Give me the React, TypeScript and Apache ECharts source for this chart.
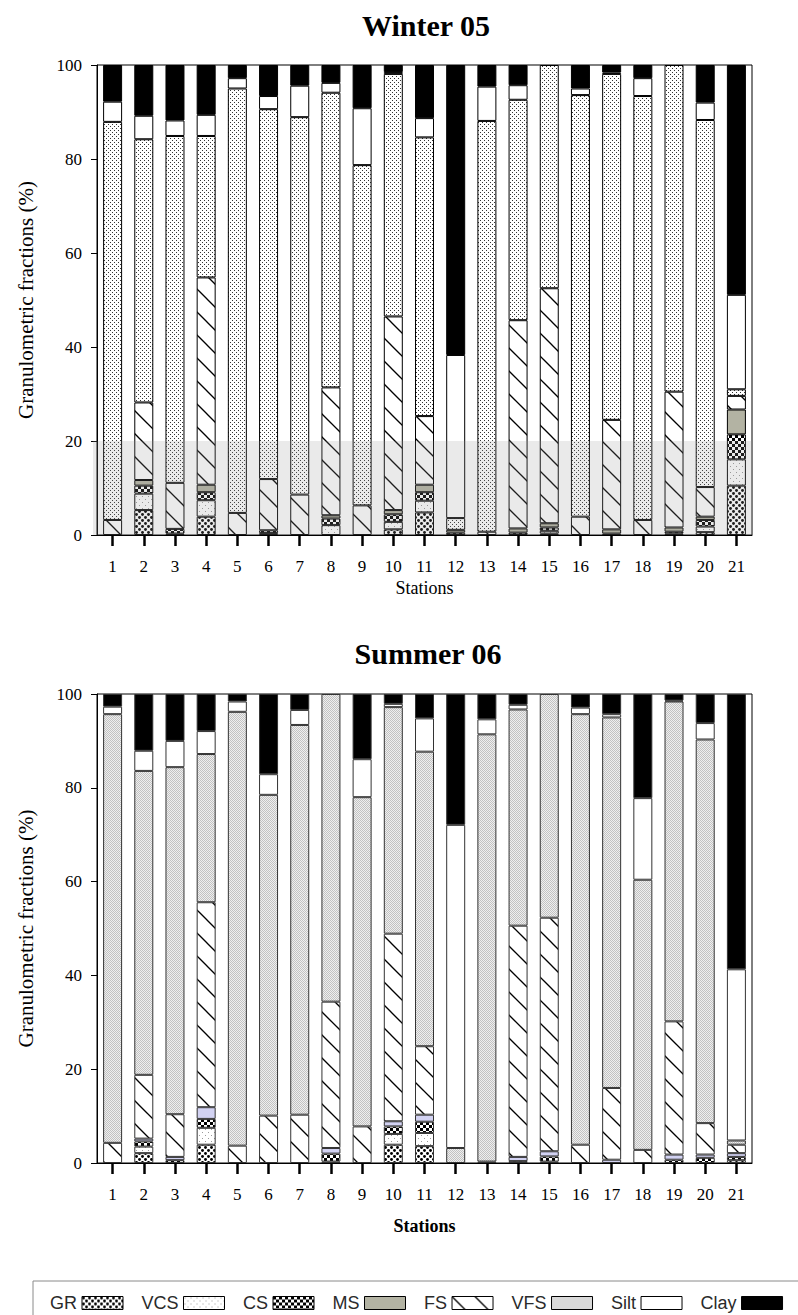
import React, { useEffect, useRef } from "react";
import * as echarts from "echarts";

const STATIONS = ["1","2","3","4","5","6","7","8","9","10","11","12","13","14","15","16","17","18","19","20","21"];
const FRACTIONS = ["GR", "VCS", "CS", "MS", "FS", "VFS", "Silt", "Clay"];
const TITLES = ["Winter 05", "Summer 06"];
const Y_NAME = "Granulometric fractions (%)";
const X_NAME = "Stations";

// Winter 05 (%)
const W_GR   = [0, 5.3, 0.3, 3.9, 0, 0, 0, 0, 0, 1.2, 4.8, 0, 0, 0, 0.3, 0, 0, 0, 0, 0.6, 10.5];
const W_VCS  = [0, 3.5, 0, 3.5, 0, 0.4, 0, 2.1, 0, 1.6, 2.5, 0, 0, 0, 0.6, 0, 0, 0, 0.3, 1.2, 5.6];
const W_CS   = [0, 1.7, 1.0, 1.7, 0, 0.6, 0, 1.4, 0, 1.6, 1.8, 0.5, 0, 0.5, 0.7, 0, 0.3, 0, 0.4, 1.4, 5.3];
const W_MS   = [0, 1.2, 0, 1.6, 0, 0, 0, 0.7, 0, 0.9, 1.6, 0.6, 0, 0.9, 0.9, 0, 0.9, 0, 0.9, 0.7, 5.3];
const W_FS   = [3.2, 16.5, 9.8, 44.1, 4.7, 10.9, 8.6, 27.2, 6.3, 41.2, 14.6, 0, 0.7, 44.3, 50.0, 3.9, 23.3, 3.2, 28.9, 6.3, 2.9];
const W_VFS  = [84.7, 56.0, 73.8, 30.1, 90.3, 78.7, 80.3, 62.7, 72.4, 51.6, 59.3, 2.5, 87.4, 46.9, 47.5, 89.7, 73.6, 90.2, 69.5, 78.1, 1.4];
const W_SILT = [4.3, 5.0, 3.3, 4.5, 2.2, 2.8, 6.7, 2.1, 12.1, 0.4, 4.1, 34.7, 7.3, 3.1, 0, 1.4, 0.3, 3.8, 0, 3.7, 20.1];
const W_CLAY = [7.8, 10.8, 11.8, 10.6, 2.8, 6.6, 4.4, 3.8, 9.2, 1.5, 11.3, 61.7, 4.6, 4.3, 0, 5.0, 1.6, 2.8, 0, 8.0, 48.9];

// Summer 06 (%)
const S_GR   = [0, 2.1, 0, 3.9, 0, 0, 0, 0.3, 0, 3.9, 3.6, 0, 0, 0, 0.3, 0, 0, 0, 0, 0, 0.6];
const S_VCS  = [0, 1.4, 0, 3.6, 0, 0, 0, 0, 0, 2.3, 2.8, 0, 0, 0, 0, 0, 0, 0, 0, 0, 0];
const S_CS   = [0, 1.1, 0.6, 1.9, 0, 0, 0, 1.7, 0, 1.6, 2.4, 0, 0, 0.4, 1.1, 0, 0, 0, 0.7, 1.1, 0.7];
const S_MS   = [0, 0.6, 0.7, 2.5, 0, 0, 0, 1.2, 0, 1.1, 1.5, 0, 0, 0.9, 1.1, 0, 0.7, 0, 1.1, 0.7, 0.8];
const S_FS   = [4.3, 13.6, 9.1, 43.7, 3.7, 10.1, 10.3, 31.2, 7.8, 40.0, 14.6, 0, 0.3, 49.3, 49.8, 3.9, 15.3, 2.8, 28.4, 6.7, 1.8];
const S_VFS  = [91.4, 64.8, 74.0, 31.6, 92.5, 68.4, 83.1, 65.6, 70.2, 48.3, 62.8, 3.2, 91.1, 46.1, 47.7, 91.8, 79.0, 57.6, 68.2, 81.8, 0.9];
const S_SILT = [1.6, 4.3, 5.6, 4.9, 2.2, 4.4, 3.2, 0, 8.1, 0.7, 7.1, 68.9, 3.2, 1.0, 0, 1.4, 0.7, 17.4, 0.2, 3.5, 36.5];
const S_CLAY = [2.7, 12.1, 10.0, 7.9, 1.6, 17.1, 3.4, 0, 13.9, 2.1, 5.2, 27.9, 5.4, 2.3, 0, 2.9, 4.3, 22.2, 1.4, 6.2, 58.7];

const WINTER = [W_GR, W_VCS, W_CS, W_MS, W_FS, W_VFS, W_SILT, W_CLAY];
const SUMMER = [S_GR, S_VCS, S_CS, S_MS, S_FS, S_VFS, S_SILT, S_CLAY];

const SERIF = "'Liberation Serif', 'Times New Roman', serif";
const SANS = "'Liberation Sans', Arial, sans-serif";

function tile(w: number, h: number, draw: (ctx: CanvasRenderingContext2D) => void) {
  const c = document.createElement("canvas");
  c.width = w;
  c.height = h;
  const ctx = c.getContext("2d") as CanvasRenderingContext2D;
  draw(ctx);
  return { image: c.toDataURL(), repeat: "repeat", imageWidth: w, imageHeight: h };
}

function makePatterns() {
  const gr = tile(6, 6, (ctx) => {
    ctx.fillStyle = "#fff";
    ctx.fillRect(0, 0, 6, 6);
    ctx.fillStyle = "#000";
    [[1.5, 1.5], [4.5, 4.5]].forEach(([x, y]) => {
      ctx.beginPath();
      ctx.arc(x, y, 1.45, 0, Math.PI * 2);
      ctx.fill();
    });
  });
  const vcs = tile(6, 6, (ctx) => {
    ctx.fillStyle = "#fff";
    ctx.fillRect(0, 0, 6, 6);
    ctx.fillStyle = "#9a9a9a";
    ctx.fillRect(1, 1, 1, 1);
    ctx.fillRect(4, 4, 1, 1);
  });
  const cs = tile(6, 6, (ctx) => {
    ctx.fillStyle = "#fff";
    ctx.fillRect(0, 0, 6, 6);
    ctx.fillStyle = "#000";
    ctx.fillRect(0, 0, 3, 3);
    ctx.fillRect(3, 3, 3, 3);
  });
  const fs = tile(23, 23, (ctx) => {
    ctx.fillStyle = "#fff";
    ctx.fillRect(0, 0, 23, 23);
    ctx.strokeStyle = "#000";
    ctx.lineWidth = 1.3;
    for (let k = -1; k <= 1; k++) {
      ctx.beginPath();
      ctx.moveTo(-3, -3 + k * 23);
      ctx.lineTo(26, 26 + k * 23);
      ctx.stroke();
    }
  });
  const vfsW = tile(4, 4, (ctx) => {
    ctx.fillStyle = "#fff";
    ctx.fillRect(0, 0, 4, 4);
    ctx.fillStyle = "#333";
    ctx.fillRect(0, 0, 1, 1);
    ctx.fillRect(2, 2, 1, 1);
  });
  const vfsS = tile(2, 2, (ctx) => {
    ctx.fillStyle = "#efefef";
    ctx.fillRect(0, 0, 2, 2);
    ctx.fillStyle = "#c2c2c2";
    ctx.fillRect(0, 0, 1, 1);
    ctx.fillRect(1, 1, 1, 1);
  });
  return { gr, vcs, cs, fs, vfsW, vfsS };
}

export default function App() {
  const ref = useRef<HTMLDivElement>(null);

  useEffect(() => {
    if (!ref.current) return;
    const chart = echarts.init(ref.current, undefined, { renderer: "svg" });
    const p = makePatterns();
    const winterFill: any[] = [p.gr, p.vcs, p.cs, "#b3b3a3", p.fs, p.vfsW, "#ffffff", "#000000"];
    const summerFill: any[] = [p.gr, p.vcs, p.cs, "#d2d2f2", p.fs, p.vfsS, "#ffffff", "#000000"];
    const legendFill: any[] = [p.gr, p.vcs, p.cs, "#b3b3a3", p.fs, p.vfsS, "#ffffff", "#000000"];

    const grids = [
      { left: 97, top: 65, width: 655, height: 470 },
      { left: 97, top: 694, width: 655, height: 469 },
    ];

    const xAxes = [0, 1].map((g) => ({
      type: "category",
      gridIndex: g,
      data: STATIONS,
      name: X_NAME,
      nameLocation: "middle",
      nameGap: g === 0 ? 44 : 54,
      nameTextStyle: { fontFamily: SERIF, fontSize: 18, color: "#000", fontWeight: g === 0 ? "normal" : "bold" },
      axisLine: { show: true, lineStyle: { color: "#000", width: 1 } },
      axisTick: { show: true, alignWithLabel: true, length: 11, lineStyle: { color: "#000", width: 2.5 } },
      axisLabel: { fontFamily: SERIF, fontSize: 17, color: "#000", margin: 23, interval: 0 },
      splitLine: { show: false },
    }));

    const yAxes = [0, 1].map((g) => ({
      type: "value",
      gridIndex: g,
      min: 0,
      max: 100,
      interval: 20,
      name: Y_NAME,
      nameLocation: "middle",
      nameGap: 61,
      nameTextStyle: { fontFamily: SERIF, fontSize: 21, color: "#000" },
      axisLine: { show: true, lineStyle: { color: "#000", width: 1 } },
      axisTick: { show: true, length: 6, lineStyle: { color: "#000", width: 1 } },
      axisLabel: { fontFamily: SERIF, fontSize: 17, color: "#000", margin: 15 },
      splitLine: { show: false },
    }));

    const mkSeries = (sets: number[][], fills: any[], g: number, stack: string, border: string) =>
      FRACTIONS.map((name, i) => ({
        name,
        type: "bar",
        stack,
        xAxisIndex: g,
        yAxisIndex: g,
        barWidth: 19,
        silent: true,
        emphasis: { disabled: true },
        data: sets[i].map((v) => (v === 0 ? null : v)),
        itemStyle: { color: fills[i], borderColor: border, borderWidth: 1 },
      }));

    const legendBox = {
      id: "legendBox",
      type: "rect",
      silent: true,
      shape: { x: 33, y: 1281, width: 800, height: 60 },
      style: { fill: "none", stroke: "#8a8a8a", lineWidth: 1 },
    };

    chart.setOption({
      animation: false,
      backgroundColor: "#fff",
      title: [
        { text: TITLES[0], left: 421, top: 5, textAlign: "center", textStyle: { fontFamily: SERIF, fontSize: 30, fontWeight: "bold", color: "#000" } },
        { text: TITLES[1], left: 423, top: 633, textAlign: "center", textStyle: { fontFamily: SERIF, fontSize: 30, fontWeight: "bold", color: "#000" } },
      ],
      grid: grids.map((g) => ({ ...g, show: true, borderColor: "#000", borderWidth: 1, backgroundColor: "transparent" })),
      xAxis: xAxes,
      yAxis: yAxes,
      legend: {
        left: 45,
        top: 1289,
        itemWidth: 41,
        itemHeight: 13,
        itemGap: 18,
        align: "right",
        icon: "rect",
        selectedMode: false,
        textStyle: { fontFamily: SANS, fontSize: 18, color: "#2a2a2a" },
        itemStyle: { borderColor: "#000", borderWidth: 1 },
        data: FRACTIONS.map((n, i) => ({ name: n, itemStyle: { color: legendFill[i], borderColor: "#000", borderWidth: 1 } })),
      },
      graphic: [legendBox],
      series: [
        ...mkSeries(WINTER, winterFill, 0, "winter", "#000"),
        ...mkSeries(SUMMER, summerFill, 1, "summer", "#333"),
      ],
    });

    // light grey wash over the lower band (0-20 %) of the winter panel, as in the scanned original
    const yTop = chart.convertToPixel({ yAxisIndex: 0 }, 20) as number;
    const yBot = chart.convertToPixel({ yAxisIndex: 0 }, 0) as number;
    chart.setOption({
      graphic: [
        legendBox,
        {
          id: "wash",
          type: "rect",
          silent: true,
          z: 50,
          shape: { x: grids[0].left - 4, y: yTop, width: grids[0].width + 4, height: yBot - yTop },
          style: { fill: "rgba(150,150,150,0.2)" },
        },
      ],
    });

    return () => chart.dispose();
  }, []);

  return (
    <div
      ref={ref}
      style={{ position: "absolute", left: 0, top: 0, width: 798, height: 1315, background: "#fff" }}
    />
  );
}
